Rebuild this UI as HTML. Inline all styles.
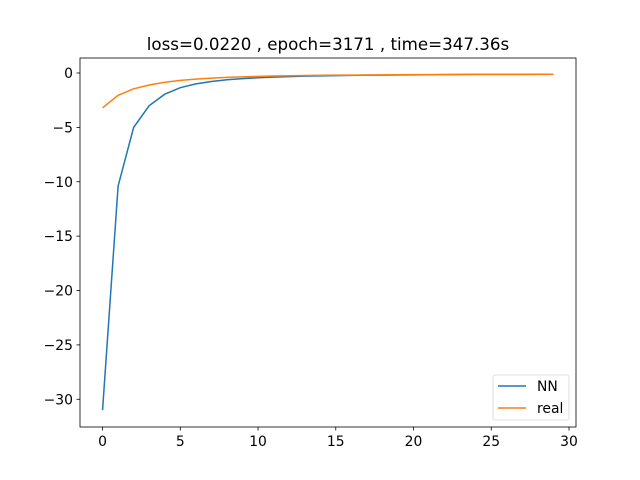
<!DOCTYPE html>
<html><head><meta charset="utf-8"><style>body{margin:0;background:#fff}svg{display:block}text{font-family:"DejaVu Sans","Liberation Sans",sans-serif}</style></head>
<body>
<svg id="chart" width="640" height="480"></svg>
<script>
const xs = [0,1,2,3,4,5,6,7,8,9,10,11,12,13,14,15,16,17,18,19,20,21,22,23,24,25,26,27,28,29];
const nnValues = [-31,-10.4,-5.0,-3.0,-1.95,-1.35,-1.0,-0.78,-0.62,-0.52,-0.44,-0.38,-0.33,-0.29,-0.26,-0.24,-0.22,-0.2,-0.19,-0.18,-0.17,-0.16,-0.15,-0.14,-0.13,-0.13,-0.12,-0.12,-0.11,-0.11];
const realValues = [-3.2,-2.05,-1.45,-1.1,-0.85,-0.68,-0.56,-0.47,-0.4,-0.35,-0.31,-0.28,-0.25,-0.23,-0.21,-0.2,-0.19,-0.18,-0.17,-0.16,-0.15,-0.15,-0.14,-0.14,-0.13,-0.13,-0.12,-0.12,-0.12,-0.11];
const xTicks = [0,5,10,15,20,25,30];
const yTicks = [0,-5,-10,-15,-20,-25,-30];
const L=80,R=576,T=58,B=427;
const xmin=-1.45,xmax=30.45,ymin=-32.55,ymax=1.38;
const sx=v=>L+(v-xmin)/(xmax-xmin)*(R-L);
const sy=v=>B-(v-ymin)/(ymax-ymin)*(B-T);
const svg=document.getElementById('chart');
const NS='http://www.w3.org/2000/svg';
function mk(tag,attrs,parent){const e=document.createElementNS(NS,tag);for(const k in attrs)e.setAttribute(k,attrs[k]);(parent||svg).appendChild(e);return e;}
function line(vals,color,name){
  const p=mk('polyline',{points:xs.map((x,i)=>sx(x)+','+sy(vals[i])).join(' '),fill:'none',stroke:color,'stroke-width':1.5});
  
  
}
line(nnValues,'#1f77b4','nn-line');
line(realValues,'#ff7f0e','real-line');
const frame=mk('rect',{x:L,y:T,width:R-L,height:B-T,fill:'none',stroke:'#000','stroke-width':0.8});


xTicks.forEach(t=>{
  mk('line',{x1:sx(t),x2:sx(t),y1:B,y2:B+3.5,stroke:'#000','stroke-width':0.8});
  const tx=mk('text',{x:sx(t),y:B+19,'font-size':13.9,'text-anchor':'middle'});tx.textContent=t;
  
  
});
yTicks.forEach(t=>{
  mk('line',{x1:L-3.5,x2:L,y1:sy(t),y2:sy(t),stroke:'#000','stroke-width':0.8});
  const tx=mk('text',{x:L-7,y:sy(t)+5,'font-size':13.9,'text-anchor':'end'});tx.textContent=t===0?'0':'\u2212'+Math.abs(t);
  
  
});
const title=mk('text',{x:(L+R)/2,y:50,'font-size':16.7,'text-anchor':'middle'});
title.textContent='loss=0.0220 , epoch=3171 , time=347.36s';


const lg=mk('g',{});


mk('rect',{x:493,y:375,width:76,height:45,rx:2,fill:'#fff',stroke:'#ccc','stroke-width':0.8,opacity:0.8},lg);
[['NN','#1f77b4',386],['real','#ff7f0e',408]].forEach(([n,c,y])=>{
  mk('line',{x1:498,x2:526,y1:y,y2:y,stroke:c,'stroke-width':1.5},lg);
  const t=mk('text',{x:537,y:y+5,'font-size':13.9},lg);t.textContent=n;
  
  
});
</script>
</body></html>
